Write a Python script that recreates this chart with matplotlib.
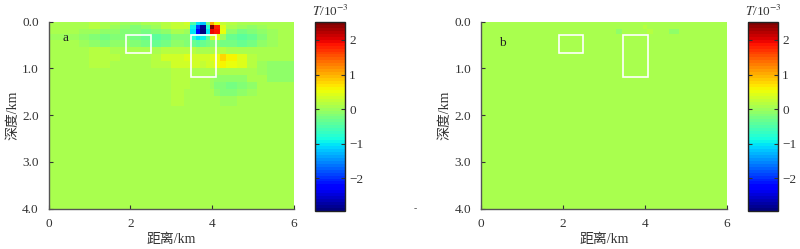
import numpy as np
import matplotlib.pyplot as plt
from matplotlib.patches import Rectangle

plt.rcParams["font.family"] = ["Liberation Serif", "Noto Sans CJK SC"]
plt.rcParams["mathtext.fontset"] = "stix"

# grid edges (km): finer cells around the surface dipole
x_edges = [0, 0.75, 1.0, 1.25, 1.5, 1.75, 2.0, 2.25, 2.5, 2.75, 3.0, 3.3, 3.45,
           3.6, 3.7, 3.85, 3.95, 4.05, 4.2, 4.35, 4.6, 4.85, 5.1, 5.35, 5.6, 6.0]
z_edges = [0, 0.07, 0.15, 0.26, 0.4, 0.55, 0.7, 0.85, 1.0, 1.15, 1.3, 1.45,
           1.6, 1.8, 4.0]

# panel a: T in 1e-3, rows = depth cells, cols = distance cells
t_a = [
    [0.1, 0.1, 0.2, 0.1, 0.1, 0.0, 0.0, 0.1, 0.1, 0.2, 0.25, 0.3, -0.5, -1.0, -1.2, -0.3, 1.0, 0.5, 0.25, 0.2, 0.1, 0.1, 0.1, 0.1, 0.1],
    [0.1, 0.1, 0.2, 0.1, 0.0, -0.1, -0.2, -0.1, 0.0, 0.15, 0.25, 0.25, -0.9, -1.9, -2.8, -0.8, 2.5, 1.8, 0.4, 0.1, 0.0, -0.05, 0.0, 0.1, 0.1],
    [0.1, 0.0, 0.0, -0.1, -0.1, -0.2, -0.2, -0.25, -0.2, -0.1, 0.1, 0.0, -1.0, -2.2, -2.9, -1.0, 2.0, 1.9, 0.5, -0.1, -0.25, -0.2, -0.1, 0.0, 0.1],
    [0.0, -0.1, -0.2, -0.25, -0.2, -0.2, -0.25, -0.35, -0.4, -0.35, -0.2, -0.2, -0.8, -1.0, -0.9, -0.4, 0.3, 0.4, 0.0, -0.35, -0.4, -0.35, -0.2, 0.0, 0.05],
    [0.1, 0.0, -0.1, -0.2, -0.1, -0.1, -0.2, -0.25, -0.35, -0.25, -0.1, -0.2, -0.35, -0.4, -0.35, -0.25, -0.2, -0.2, -0.25, -0.25, -0.35, -0.25, -0.1, 0.0, 0.1],
    [0.1, 0.1, 0.2, 0.2, 0.1, 0.05, 0.05, 0.05, 0.1, 0.15, 0.2, 0.2, 0.15, 0.1, 0.1, 0.1, 0.1, 0.15, 0.15, 0.1, 0.05, 0.05, 0.05, 0.05, 0.1],
    [0.1, 0.1, 0.2, 0.2, 0.15, 0.1, 0.1, 0.1, 0.2, 0.3, 0.35, 0.4, 0.3, 0.3, 0.3, 0.35, 0.4, 0.5, 0.8, 0.6, 0.4, 0.2, 0.1, 0.05, 0.05],
    [0.1, 0.1, 0.15, 0.15, 0.1, 0.1, 0.1, 0.1, 0.15, 0.2, 0.3, 0.35, 0.3, 0.3, 0.25, 0.3, 0.35, 0.5, 0.6, 0.5, 0.4, 0.2, 0.0, -0.05, -0.05],
    [0.1, 0.1, 0.1, 0.1, 0.1, 0.1, 0.1, 0.1, 0.1, 0.1, 0.15, 0.15, 0.1, 0.1, 0.1, 0.1, 0.1, 0.05, 0.05, 0.1, 0.1, 0.05, 0.0, -0.1, -0.1],
    [0.1, 0.1, 0.1, 0.1, 0.1, 0.1, 0.1, 0.1, 0.1, 0.1, 0.15, 0.15, 0.1, 0.1, 0.1, 0.1, 0.0, -0.1, -0.1, -0.1, -0.05, 0.05, 0.05, -0.1, -0.1],
    [0.1, 0.1, 0.1, 0.1, 0.1, 0.1, 0.1, 0.1, 0.1, 0.1, 0.15, 0.15, 0.1, 0.1, 0.1, 0.1, 0.0, -0.2, -0.2, -0.25, -0.2, -0.05, 0.05, 0.05, 0.05],
    [0.1, 0.1, 0.1, 0.1, 0.1, 0.1, 0.1, 0.1, 0.1, 0.1, 0.15, 0.1, 0.1, 0.1, 0.1, 0.1, 0.1, -0.1, -0.15, -0.2, -0.1, 0.0, 0.1, 0.1, 0.1],
    [0.1, 0.1, 0.1, 0.1, 0.1, 0.1, 0.1, 0.1, 0.1, 0.1, 0.15, 0.1, 0.1, 0.1, 0.1, 0.1, 0.1, 0.05, 0.0, 0.0, 0.05, 0.1, 0.1, 0.1, 0.1],
    [0.1] * 25,
]

# panel b: flat background with a few faint cells (row, col, value)
t_b_background = 0.1
t_b_spots = [(2, 11, -0.05), (2, 20, -0.05), (1, 16, 0.2), (2, 17, 0.15)]

# anomaly boxes: (x0, x1, z0, z1) in km
boxes = [(1.9, 2.5, 0.29, 0.68), (3.48, 4.09, 0.29, 1.18)]

vmin, vmax = -2.95, 2.52
cmap = plt.get_cmap("jet", 64)

t_b = np.full((len(z_edges) - 1, len(x_edges) - 1), t_b_background)
for r, c, v in t_b_spots:
    t_b[r, c] = v

fig = plt.figure(figsize=(8.0, 2.49), dpi=100)
W, H = 800, 249
def pos(x0, y0, x1, y1):
    return [x0 / W, 1 - y1 / H, (x1 - x0) / W, (y1 - y0) / H]

panels = [(np.array(t_a), "a", (0.35, 0.35), pos(48.5, 21.7, 294, 208.5), pos(315, 22, 345, 211)),
          (t_b, "b", (0.45, 0.45), pos(481, 21.7, 726.5, 208.5), pos(748, 22, 778, 211))]

tc = "#333333"
for grid, lab, lpos, apos, cpos in panels:
    ax = fig.add_axes(apos)
    mesh = ax.pcolormesh(x_edges, z_edges, grid, cmap=cmap, vmin=vmin, vmax=vmax,
                         shading="flat")
    ax.set_xlim(0, 6)
    ax.set_ylim(4, 0)
    for b in boxes:
        ax.add_patch(Rectangle((b[0], b[2]), b[1] - b[0], b[3] - b[2], fill=False,
                               ec="white", lw=1.2))
    ax.text(lpos[0], lpos[1], lab, fontsize=9.5, color="#222222", va="center")
    ax.set_xticks([0, 2, 4, 6])
    ax.set_yticks([0, 1, 2, 3, 4])
    ax.set_yticklabels(["0.0", "1.0", "2.0", "3.0", "4.0"])
    ax.tick_params(direction="in", length=3, labelsize=9.5, colors=tc, pad=7,
                   top=False, right=False)
    for s in ("top", "right"):
        ax.spines[s].set_visible(False)
    for s in ("left", "bottom"):
        ax.spines[s].set_color("#555555")
        ax.spines[s].set_linewidth(1.0)
    ax.set_xlabel("距离/km", fontsize=10, color=tc, labelpad=2)
    ax.set_ylabel("深度/km", fontsize=10, color=tc, labelpad=2)

    cax = fig.add_axes(cpos)
    cb = fig.colorbar(mesh, cax=cax)
    cb.set_ticks([-2, -1, 0, 1, 2])
    cb.set_ticklabels(["\u22122", "\u22121", "0", "1", "2"])
    cb.outline.set_linewidth(1.0)
    cb.outline.set_edgecolor("#222222")
    cax.tick_params(direction="in", length=3, left=True, right=True,
                    labelsize=9.5, colors=tc, pad=3)
    cax.set_title("$T$/10$^{-3}$", fontsize=9.5, color=tc, pad=4)

fig.text(415 / W, 1 - 209 / H, "-", fontsize=7, color="#555555", ha="center", va="center")

fig.savefig("out.png", dpi=100)
